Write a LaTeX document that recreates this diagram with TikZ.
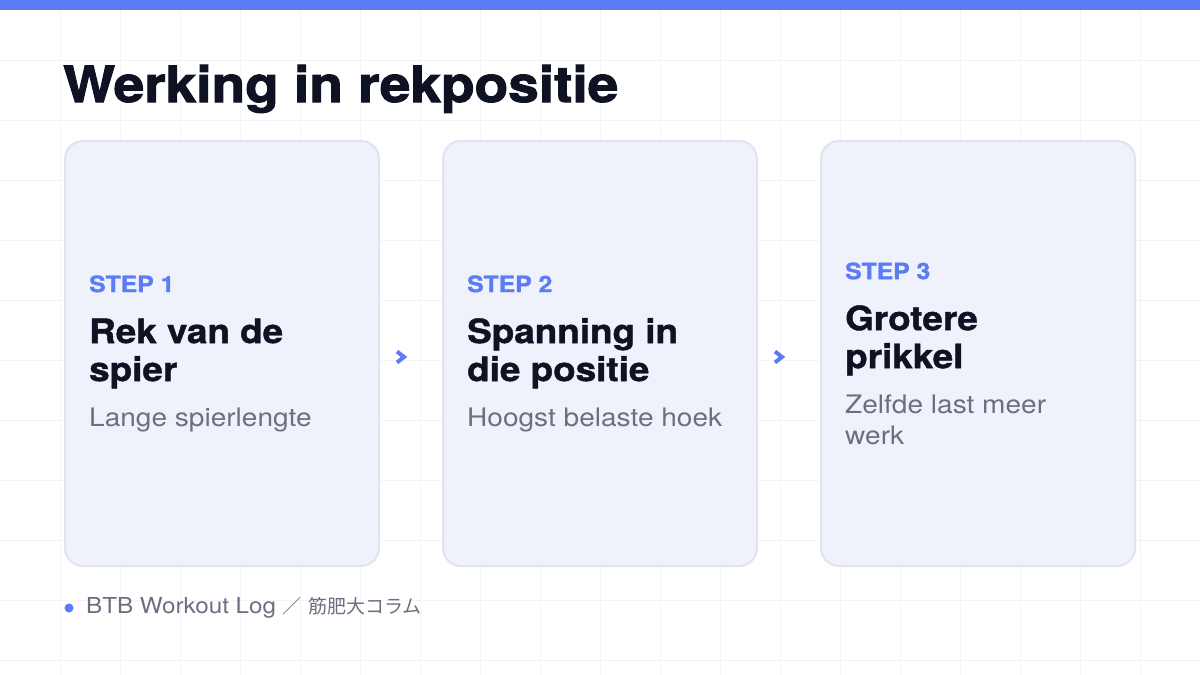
\documentclass[tikz,border=0pt]{standalone}
\usepackage{fontspec}
\setmainfont{TeX Gyre Heros}[FakeStretch=1.1]
\newfontfamily\heavy{TeX Gyre Heros Bold}[FakeStretch=1.1, FakeBold=1.2]
\newfontfamily\titlefont{TeX Gyre Heros Bold}[FakeStretch=1.1, FakeBold=2]
\newfontfamily\cjk{Noto Sans CJK JP}
\usetikzlibrary{positioning}

\definecolor{accent}{HTML}{5C7CF6}
\definecolor{ink}{HTML}{0F1222}
\definecolor{muted}{HTML}{6B7080}
\definecolor{cardfill}{HTML}{F0F2FB}
\definecolor{cardline}{HTML}{E0E3F0}
\definecolor{gridline}{HTML}{F3F4F7}

\newcommand{\stepblock}[3]{%
  \parbox{264pt}{\raggedright
    {\fontsize{22.5}{26}\selectfont\heavy\color{accent}#1\par}
    \vspace{13pt}
    {\fontsize{33.5}{38}\selectfont\heavy\color{ink}#2\par}
    \vspace{14pt}
    {\fontsize{25.5}{31}\selectfont\color{muted}#3\par}}}

\begin{document}
\begin{tikzpicture}[x = 1pt, y = -1pt,
    card/.style = {draw = cardline, line width = 2pt, fill = cardfill, rounded corners = 18pt,
                   minimum width = 314pt, minimum height = 425pt, inner sep = 0pt},
    content/.style = {anchor = west, inner sep = 0pt},
    chevron/.style = {draw = accent, line width = 4pt, miter limit = 4},
    title/.style = {anchor = base west, inner sep = 0pt, text = ink, font = \fontsize{50}{50}\selectfont\titlefont},
    footer/.style = {anchor = west, inner sep = 0pt, text = muted, font = \fontsize{22}{24}\selectfont},
    node distance = 62pt]
      \useasboundingbox (0,0) rectangle (1200,675);
      \fill[white] (0,0) rectangle (1200,675);
      \foreach \gx in {60,120,...,1140} \draw[gridline, line width = 1pt] (\gx,0) -- (\gx,675);
      \foreach \gy in {60,120,...,660} \draw[gridline, line width = 1pt] (0,\gy) -- (1200,\gy);
      \fill[accent] (0,0) rectangle (1200,9.5);

      \node[title] (title) at (63,102) {Werking in rekpositie};

      \node[card] (card1) at (222,353.5) {};
      \node[card, right = of card1] (card2) {};
      \node[card, right = of card2] (card3) {};

      \node[content] (text1) at ([xshift = 25pt]card1.west) {\stepblock{STEP 1}{Rek van de\\spier}{Lange spierlengte}};
      \node[content] (text2) at ([xshift = 25pt]card2.west) {\stepblock{STEP 2}{Spanning in\\die positie}{Hoogst belaste hoek}};
      \node[content] (text3) at ([xshift = 25pt]card3.west) {\stepblock{STEP 3}{Grotere\\prikkel}{Zelfde last meer\\werk}};

      \coordinate (chev1) at ([xshift = 21pt, yshift = -3.5pt]card1.east);
      \coordinate (chev2) at ([xshift = 21pt, yshift = -3.5pt]card2.east);
      \foreach \c in {chev1, chev2}
        \draw[chevron] ([xshift = -4pt, yshift = 5.5pt]\c) -- ([xshift = 3pt]\c) -- ([xshift = -4pt, yshift = -5.5pt]\c);

      \fill[accent] (69,608) circle (4.5pt);
      \node[footer] (source) at (86,608) {BTB Workout Log {\cjk\fontsize{19}{24}\selectfont ／} {\cjk\fontsize{19}{24}\selectfont 筋肥大コラム}};
\end{tikzpicture}
\end{document}
